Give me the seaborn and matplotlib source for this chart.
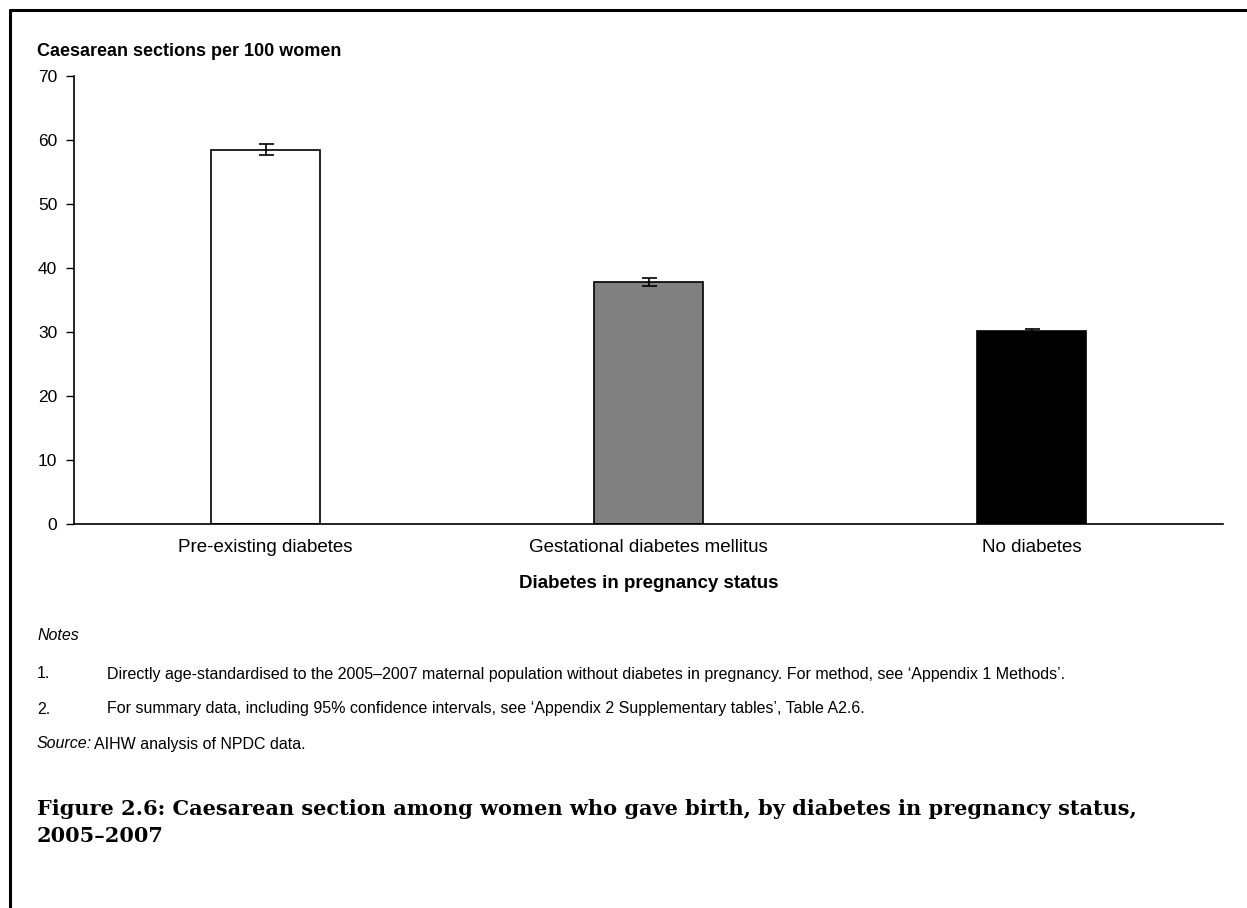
import matplotlib
matplotlib.use("Agg")
import matplotlib.pyplot as plt
import seaborn as sns
import pandas as pd
import numpy as np

# Data
categories = ["Pre-existing diabetes", "Gestational diabetes mellitus", "No diabetes"]
rates = [58.4, 37.8, 30.1]
ci_low = [57.6, 37.2, 29.8]
ci_high = [59.3, 38.5, 30.4]
bar_colors = ["#ffffff", "#808080", "#000000"]
y_ticks = [0, 10, 20, 30, 40, 50, 60, 70]

note_1 = ("Directly age-standardised to the 2005\u20132007 maternal population without diabetes in pregnancy. "
          "For method, see \u2018Appendix 1 Methods\u2019.")
note_2 = ("For summary data, including 95% confidence intervals, see \u2018Appendix 2 Supplementary tables\u2019, "
          "Table A2.6.")

sns.set_theme(style="white")
plt.rcParams["font.family"] = ["Liberation Sans", "DejaVu Sans"]
for key in ["text.color", "axes.labelcolor", "xtick.color", "ytick.color", "axes.edgecolor"]:
    plt.rcParams[key] = "black"

W, H = 1247, 908
fig = plt.figure(figsize=(W / 100, H / 100), dpi=100)
fig.patch.set_facecolor("white")

# Page frame (top and left rules)
fig.add_artist(plt.Line2D([10 / W, 1], [1 - 10 / H, 1 - 10 / H], color="black", lw=2.2, transform=fig.transFigure))
fig.add_artist(plt.Line2D([10 / W, 10 / W], [0, 1 - 10 / H], color="black", lw=2.2, transform=fig.transFigure))

ax = fig.add_axes([74 / W, 1 - 524 / H, 1149 / W, 448 / H])

df = pd.DataFrame({"status": categories, "rate": rates})
sns.barplot(data=df, x="status", y="rate", hue="status", palette=bar_colors,
            order=categories, hue_order=categories, legend=False,
            width=0.285, edgecolor="black", linewidth=1.2, ax=ax, errorbar=None)

x = np.arange(len(categories))
lower = np.array(rates) - np.array(ci_low)
upper = np.array(ci_high) - np.array(rates)
ax.errorbar(x, rates, yerr=[lower, upper], fmt="none", ecolor="black",
            elinewidth=1.2, capsize=5.4, capthick=1.2, zorder=5)

ax.set_ylim(0, 70)
ax.set_xlim(-0.5, 2.5)
ax.set_yticks(y_ticks)
ax.set_yticklabels([str(t) for t in y_ticks], fontsize=12.5)
ax.tick_params(axis="y", left=True, direction="out", length=6, width=1, color="black", pad=6)
ax.tick_params(axis="x", bottom=False, length=0, pad=11, labelsize=13.5)
for s in ["top", "right"]:
    ax.spines[s].set_visible(False)
for s in ["left", "bottom"]:
    ax.spines[s].set_linewidth(1.2)
ax.set_xlabel("")
ax.set_ylabel("")
ax.grid(False)

fig.text(37 / W, 1 - 52 / H, "Caesarean sections per 100 women", fontsize=13, fontweight="bold",
         va="center", ha="left")
fig.text((74 + 1149 / 2) / W, 1 - 584 / H, "Diabetes in pregnancy status", fontsize=13.5,
         fontweight="bold", va="center", ha="center")

# Notes and source
note_size = 11.5
fig.text(37 / W, 1 - 636 / H, "Notes", fontsize=note_size, style="italic", va="center")
fig.text(37 / W, 1 - 674 / H, "1.", fontsize=note_size, va="center")
fig.text(107 / W, 1 - 674 / H, note_1, fontsize=note_size, va="center")
fig.text(37 / W, 1 - 709 / H, "2.", fontsize=note_size, va="center")
fig.text(107 / W, 1 - 709 / H, note_2, fontsize=note_size, va="center")
fig.text(37 / W, 1 - 744 / H, "Source:", fontsize=note_size, style="italic", va="center")
fig.text(94 / W, 1 - 744 / H, "AIHW analysis of NPDC data.", fontsize=note_size, va="center")

# Figure caption
fig.text(37 / W, 1 - 809 / H,
         "Figure 2.6: Caesarean section among women who gave birth, by diabetes in pregnancy status,",
         fontsize=15, fontweight="bold", family=["DejaVu Serif"], va="center")
fig.text(37 / W, 1 - 836 / H, "2005\u20132007", fontsize=15, fontweight="bold",
         family=["DejaVu Serif"], va="center")

fig.savefig("out.png", dpi=100, facecolor="white")
